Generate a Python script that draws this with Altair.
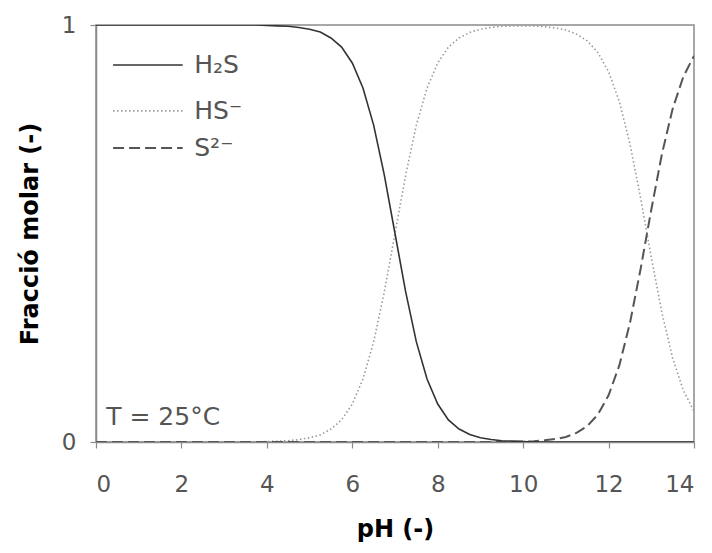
import altair as alt
import pandas as pd

# pH grid (step 0.25)
ph = [0.0, 0.25, 0.5, 0.75, 1.0, 1.25, 1.5, 1.75, 2.0, 2.25, 2.5, 2.75, 3.0, 3.25, 3.5, 3.75,
      4.0, 4.25, 4.5, 4.75, 5.0, 5.25, 5.5, 5.75, 6.0, 6.25, 6.5, 6.75, 7.0, 7.25, 7.5, 7.75,
      8.0, 8.25, 8.5, 8.75, 9.0, 9.25, 9.5, 9.75, 10.0, 10.25, 10.5, 10.75, 11.0, 11.25, 11.5, 11.75,
      12.0, 12.25, 12.5, 12.75, 13.0, 13.25, 13.5, 13.75, 14.0]

h2s = [1.0, 1.0, 1.0, 1.0, 1.0, 1.0, 1.0, 1.0, 1.0, 1.0, 1.0, 1.0, 1.0, 1.0, 1.0, 1.0,
       0.999, 0.998, 0.997, 0.994, 0.990, 0.983, 0.969, 0.947, 0.909, 0.849, 0.760, 0.640,
       0.500, 0.360, 0.240, 0.151, 0.091, 0.053, 0.031, 0.018, 0.010, 0.006, 0.003, 0.002,
       0.001, 0.0, 0.0, 0.0, 0.0, 0.0, 0.0, 0.0, 0.0, 0.0, 0.0, 0.0, 0.0, 0.0, 0.0, 0.0, 0.0]

hs = [0.0, 0.0, 0.0, 0.0, 0.0, 0.0, 0.0, 0.0, 0.0, 0.0, 0.0, 0.0, 0.0, 0.0, 0.0, 0.0,
      0.001, 0.002, 0.003, 0.006, 0.010, 0.017, 0.031, 0.053, 0.091, 0.151, 0.240, 0.360,
      0.500, 0.640, 0.760, 0.849, 0.909, 0.947, 0.969, 0.982, 0.990, 0.994, 0.997, 0.998,
      0.998, 0.998, 0.996, 0.993, 0.988, 0.978, 0.962, 0.934, 0.888, 0.817, 0.715, 0.585,
      0.443, 0.309, 0.201, 0.124, 0.074]

s2 = [0.0, 0.0, 0.0, 0.0, 0.0, 0.0, 0.0, 0.0, 0.0, 0.0, 0.0, 0.0, 0.0, 0.0, 0.0, 0.0,
      0.0, 0.0, 0.0, 0.0, 0.0, 0.0, 0.0, 0.0, 0.0, 0.0, 0.0, 0.0, 0.0, 0.0, 0.0, 0.0,
      0.0, 0.0, 0.0, 0.0, 0.0, 0.0, 0.0, 0.0,
      0.001, 0.002, 0.004, 0.007, 0.012, 0.022, 0.038, 0.066, 0.112, 0.183, 0.285, 0.415,
      0.557, 0.691, 0.799, 0.876, 0.926]

x_ticks = [0, 2, 4, 6, 8, 10, 12, 14]
y_ticks = [0, 1]

legend_labels = ["H₂S", "HS⁻", "S²⁻"]
legend_y = [0.904, 0.794, 0.705]
legend_x0 = 0.40
legend_x1 = 2.03
legend_text_x = 2.30

note_text = "T = 25°C"
note_x = 0.24
note_y = 0.06

FONT = "DejaVu Sans"
GRAY_TEXT = "#555555"

df = pd.DataFrame({"pH": ph, "H2S": h2s, "HS": hs, "S2": s2})

x_enc = alt.X("pH:Q",
              scale=alt.Scale(domain=[0, 14], nice=False, zero=False),
              axis=alt.Axis(values=x_ticks, title="pH (-)", format="d"))

def y_enc(field):
    return alt.Y(f"{field}:Q",
                 scale=alt.Scale(domain=[0, 1], nice=False),
                 axis=alt.Axis(values=y_ticks, title="Fracció molar (-)", format="d"))

base = alt.Chart(df)

line_h2s = base.mark_line(color="#333333", strokeWidth=1.6, clip=True).encode(
    x=x_enc, y=y_enc("H2S"))
line_hs = base.mark_line(color="#9a9a9a", strokeWidth=1.6, strokeDash=[1.5, 2.5], clip=True).encode(
    x=x_enc, y=y_enc("HS"))
line_s2 = base.mark_line(color="#555555", strokeWidth=2, strokeDash=[11, 5], clip=True).encode(
    x=x_enc, y=y_enc("S2"))

leg_df = pd.DataFrame({"x0": [legend_x0] * 3, "x1": [legend_x1] * 3,
                       "y": legend_y, "label": legend_labels,
                       "tx": [legend_text_x] * 3})

def leg_rule(i, **kw):
    return alt.Chart(leg_df.iloc[[i]]).mark_rule(**kw).encode(
        x=alt.X("x0:Q"), x2="x1:Q", y=alt.Y("y:Q"))

leg1 = leg_rule(0, color="#333333", strokeWidth=1.6)
leg2 = leg_rule(1, color="#9a9a9a", strokeWidth=1.6, strokeDash=[1.5, 2.5])
leg3 = leg_rule(2, color="#555555", strokeWidth=2, strokeDash=[11, 5])

leg_text = alt.Chart(leg_df).mark_text(
    align="left", baseline="middle", font=FONT, fontSize=25, color=GRAY_TEXT
).encode(x="tx:Q", y="y:Q", text="label:N")

note_df = pd.DataFrame({"x": [note_x], "y": [note_y], "t": [note_text]})
note = alt.Chart(note_df).mark_text(
    align="left", baseline="middle", font=FONT, fontSize=25, color=GRAY_TEXT
).encode(x="x:Q", y="y:Q", text="t:N")

chart = alt.layer(line_hs, line_s2, line_h2s, leg1, leg2, leg3, leg_text, note).properties(
    width=598, height=417,
    autosize=alt.AutoSizeParams(type="none"),
    padding={"left": 88, "top": 17, "right": 10, "bottom": 110},
).configure_view(
    stroke="#8a8a8a", strokeWidth=1.5
).configure_axis(
    grid=False,
    domainColor="#8a8a8a", domainWidth=1.5,
    tickColor="#8a8a8a", tickSize=6, tickWidth=1.2,
    labelColor=GRAY_TEXT, labelFont=FONT, labelFontSize=23,
    titleFont=FONT, titleFontSize=24, titleFontWeight="bold", titleColor="#000000",
).configure_axisX(
    labelPadding=25, titlePadding=21
).configure_axisY(
    labelPadding=14, titlePadding=19
)

chart.save("out.html", embed_options={"renderer": "svg", "actions": False})
